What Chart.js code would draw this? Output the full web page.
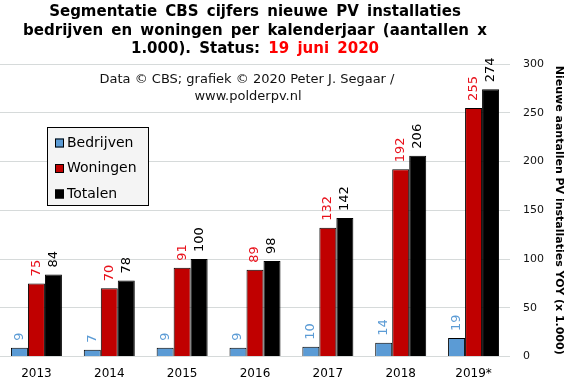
<!DOCTYPE html>
<html>
<head>
<meta charset="utf-8">
<script src="https://cdn.jsdelivr.net/npm/chart.js"></script>
<style>
  body { margin: 0; background: #fff; }
  #wrap { width: 571px; height: 384px; }
</style>
</head>
<body>
<div id="wrap"><canvas id="myChart"></canvas></div>
<script>
// data (x 1.000)
var years = ['2013', '2014', '2015', '2016', '2017', '2018', '2019*'];
var bedrijven = [9, 7, 9, 9, 10, 14, 19];
var woningen = [75, 70, 91, 89, 132, 192, 255];
var totalen = [84, 78, 100, 98, 142, 206, 274];
var yTicks = [0, 50, 100, 150, 200, 250, 300];

var titleLines = ['Segmentatie CBS cijfers nieuwe PV installaties',
  'bedrijven en woningen per kalenderjaar (aantallen x'];
var titleLast = ['1.000). Status: ', '19 juni 2020'];
var sourceLines = ['Data \u00a9 CBS; grafiek \u00a9 2020 Peter J. Segaar /', 'www.polderpv.nl'];
var labelColors = ['#5b9bd5', '#e8101a', '#000000'];

var FONT = '"DejaVu Sans", Verdana, sans-serif';
Chart.defaults.font.family = FONT;
Chart.defaults.color = '#000';

// title, source note and legend box
var textPlugin = {
  id: 'texts',
  afterDraw: function(chart) {
    var ctx = chart.ctx, area = chart.chartArea;
    var cx = (area.left + area.right) / 2;
    ctx.save();
    ctx.textBaseline = 'middle';
    ctx.textAlign = 'center';
    ctx.wordSpacing = '3px';
    ctx.font = 'bold 15px ' + FONT;
    ctx.fillStyle = '#000';
    ctx.fillText(titleLines[0], cx, 12);
    ctx.fillText(titleLines[1], cx, 31);
    var w1 = ctx.measureText(titleLast[0]).width;
    var w2 = ctx.measureText(titleLast[1]).width;
    var x0 = cx - (w1 + w2) / 2;
    ctx.textAlign = 'left';
    ctx.fillText(titleLast[0], x0, 49);
    ctx.fillStyle = '#ff0000';
    ctx.fillText(titleLast[1], x0 + w1, 49);

    ctx.wordSpacing = '0px';
    ctx.textAlign = 'center';
    ctx.fillStyle = '#111';
    ctx.font = '13px ' + FONT;
    ctx.fillText(sourceLines[0], cx - 8, 80);
    ctx.fillText(sourceLines[1], cx - 7, 97);

    // legend
    var lx = area.left + 47, ly = area.top + 63;
    ctx.fillStyle = '#f4f4f4';
    ctx.fillRect(lx, ly, 102, 79);
    ctx.strokeStyle = '#000';
    ctx.lineWidth = 1;
    ctx.strokeRect(lx + 0.5, ly + 0.5, 101, 78);
    ctx.font = '14px ' + FONT;
    ctx.textAlign = 'left';
    chart.data.datasets.forEach(function(ds, i) {
      var y = ly + 16 + i * 25.5;
      ctx.fillStyle = ds.backgroundColor;
      ctx.fillRect(lx + 8, y - 4.5, 9, 9);
      ctx.strokeRect(lx + 8.5, y - 4, 8, 8);
      ctx.fillStyle = '#000';
      ctx.fillText(ds.label, lx + 20, y);
    });
    ctx.restore();
  }
};

// vertical value labels above each bar
var valuePlugin = {
  id: 'values',
  afterDatasetsDraw: function(chart) {
    var ctx = chart.ctx;
    ctx.save();
    ctx.font = '13px ' + FONT;
    ctx.textAlign = 'left';
    ctx.textBaseline = 'middle';
    chart.data.datasets.forEach(function(ds, i) {
      var meta = chart.getDatasetMeta(i);
      ctx.fillStyle = labelColors[i];
      meta.data.forEach(function(bar, j) {
        ctx.save();
        ctx.translate(bar.x, bar.y - 7);
        ctx.rotate(-Math.PI / 2);
        ctx.fillText(String(ds.data[j]), 0, 0);
        ctx.restore();
      });
    });
    ctx.restore();
  }
};

var ctx = document.getElementById('myChart').getContext('2d');
var chart = new Chart(ctx, {
  type: 'bar',
  data: {
    labels: years,
    datasets: [{
      label: 'Bedrijven',
      data: bedrijven,
      backgroundColor: '#5b9bd5'
    }, {
      label: 'Woningen',
      data: woningen,
      backgroundColor: '#c00000'
    }, {
      label: 'Totalen',
      data: totalen,
      backgroundColor: '#000000'
    }]
  },
  options: {
    responsive: true,
    maintainAspectRatio: false,
    animation: false,
    datasets: {
      bar: {
        borderColor: '#000',
        borderWidth: 1,
        categoryPercentage: 0.7,
        barPercentage: 1
      }
    },
    layout: {
      padding: { top: 64, bottom: 0, left: 0, right: 0 }
    },
    plugins: {
      legend: { display: false },
      tooltip: { enabled: false }
    },
    scales: {
      x: {
        afterFit: function(scale) { scale.height = 27.5; },
        grid: { display: false, drawTicks: false },
        border: { display: false },
        ticks: { font: { size: 12 }, padding: 10, color: '#000' }
      },
      y: {
        position: 'right',
        min: 0,
        max: 300,
        afterFit: function(scale) { scale.width = 61; },
        afterBuildTicks: function(scale) {
          scale.ticks = yTicks.map(function(v) { return { value: v }; });
        },
        grid: { color: '#d6dada', drawTicks: false },
        border: { display: false },
        ticks: { font: { size: 11 }, padding: 13, color: '#111' },
        title: {
          display: true,
          text: 'Nieuwe aantallen PV installaties YOY (x 1.000)',
          font: { size: 11, weight: 'bold' },
          color: '#000',
          padding: { top: 6, bottom: 8 }
        }
      }
    }
  },
  plugins: [valuePlugin, textPlugin]
});
</script>
</body>
</html>
